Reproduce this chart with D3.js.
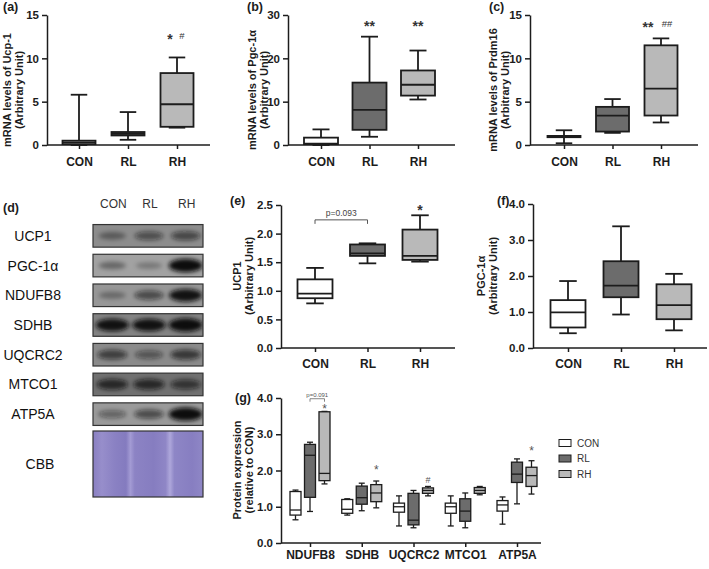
<!DOCTYPE html>
<html><head><meta charset="utf-8">
<script src="https://cdn.jsdelivr.net/npm/d3@7"></script>
<style>
body{margin:0;background:#fff}
svg{display:block}
text{font-family:"Liberation Sans",Arial,Helvetica,sans-serif}
</style>
</head><body>
<svg id="c" width="709" height="569"></svg>
<script>
// ---------------- DATA ----------------
const groups = ["CON", "RL", "RH"];
// box stats per group: [min, q1, median, q3, max]
const ucp1mRNA   = [[0, 0.1, 0.3, 0.5, 5.8], [0.6, 1.1, 1.3, 1.5, 3.8], [2.0, 2.1, 4.7, 8.3, 10.1]];
const pgc1amRNA  = [[0, 0.2, 0.3, 1.7, 3.6], [1.9, 3.5, 8.1, 14.4, 25.0], [10.5, 11.4, 13.9, 17.2, 21.8]];
const prdm16mRNA = [[0.2, 0.9, 1.0, 1.05, 1.7], [1.4, 1.55, 3.4, 4.4, 5.3], [2.6, 3.4, 6.5, 11.5, 12.3]];
const ucp1Protein  = [[0.78, 0.87, 0.95, 1.20, 1.40], [1.48, 1.61, 1.655, 1.81, 1.83], [1.51, 1.54, 1.61, 2.07, 2.32]];
const pgc1aProtein = [[0.41, 0.57, 0.99, 1.33, 1.86], [0.93, 1.41, 1.73, 2.41, 3.38], [0.49, 0.80, 1.19, 1.77, 2.06]];

const oxphosCats = ["NDUFB8", "SDHB", "UQCRC2", "MTCO1", "ATP5A"];
const oxphosCON = [[0.64, 0.77, 0.91, 1.42, 1.46], [0.77, 0.82, 0.93, 1.20, 1.22], [0.47, 0.85, 1.00, 1.10, 1.30], [0.47, 0.82, 1.00, 1.10, 1.30], [0.52, 0.88, 1.05, 1.17, 1.27]];
const oxphosRL  = [[0.87, 1.26, 2.42, 2.72, 2.78], [0.89, 1.07, 1.25, 1.57, 1.65], [0.42, 0.50, 0.63, 1.37, 1.45], [0.42, 0.60, 0.88, 1.22, 1.38], [1.08, 1.67, 1.90, 2.23, 2.32]];
const oxphosRH  = [[1.63, 1.72, 1.92, 3.62, 3.63], [0.97, 1.14, 1.38, 1.61, 1.71], [1.30, 1.37, 1.45, 1.52, 1.56], [1.33, 1.37, 1.45, 1.53, 1.56], [1.35, 1.56, 1.86, 2.09, 2.27]];

const ticksA = [0, 5, 10, 15];
const ticksB = [0, 10, 20, 30];
const ticksC = [0, 5, 10, 15];
const ticksE = [0, 0.5, 1.0, 1.5, 2.0, 2.5];
const ticksF = [0, 1, 2, 3, 4];
const ticksG = [0, 1, 2, 3, 4];

// significance marks: [group, text, value]
const sigA = [["RH", "*", 12.6], ["RH", "#", 12.6]];
const sigB = [["RL", "**", 28.2], ["RH", "**", 28.2]];
const sigC = [["RH", "**", 14.0], ["RH", "##", 14.0]];
const sigE = [["RH", "*", 2.47]];
const pBracketE = ["CON", "RL", 2.24, "p=0.093"];
// oxphos marks: [category, group, text, value]
const sigG = [["NDUFB8", "RH", "*", 3.78], ["SDHB", "RH", "*", 2.1], ["UQCRC2", "RH", "#", 1.75], ["ATP5A", "RH", "*", 2.62]];
const pBracketG = ["NDUFB8", "RL", "RH", 3.98, "p=0.091"];

// western blot
const blotProteins = ["UCP1", "PGC-1α", "NDUFB8", "SDHB", "UQCRC2", "MTCO1", "ATP5A"];
const blotBands = [[0.35, 0.5, 0.55], [0.35, 0.25, 1.0], [0.3, 0.55, 0.92], [0.92, 0.92, 1.0], [0.6, 0.45, 0.65], [0.72, 0.72, 0.62], [0.4, 0.55, 1.0]];

// ---------------- STYLE ----------------
const fills = {CON: "#ffffff", RL: "#6c6c6c", RH: "#b9b9b9"};
const ink = "#1c1c1c";
const blotBg = {"UCP1": "#8d8d8d", "PGC-1α": "#a2a2a2", "NDUFB8": "#979797", "SDHB": "#838383", "UQCRC2": "#8b8b8b", "MTCO1": "#707070", "ATP5A": "#9a9a9a"};

const svg = d3.select("#c");
svg.append("rect").attr("width", 709).attr("height", 569).attr("fill", "#fff");
const defs = svg.append("defs");
defs.append("filter").attr("id", "blur").attr("x", "-50%").attr("y", "-80%").attr("width", "200%").attr("height", "260%")
  .append("feGaussianBlur").attr("stdDeviation", 2.2);

function glyphBaseline(yc, t, size) {
  return yc + (t.indexOf("*") >= 0 ? 0.6 : 0.36) * size;
}

function rotTitle(x, yc, lines, size) {
  const g = svg.append("g");
  lines.forEach((l, i) => {
    g.append("text").attr("transform", `translate(${x + i * 12},${yc}) rotate(-90)`)
      .attr("text-anchor", "middle").attr("dominant-baseline", "central")
      .attr("font-size", size).attr("font-weight", "bold").attr("fill", ink).text(l);
  });
}

function styleAxis(g, sw, fs, bold) {
  g.selectAll("path.domain").attr("stroke", ink).attr("stroke-width", sw);
  g.selectAll(".tick line").attr("stroke", ink).attr("stroke-width", sw);
  g.selectAll(".tick text").attr("font-size", fs).attr("font-weight", bold ? "bold" : "normal")
    .attr("fill", ink).attr("font-family", '"Liberation Sans",Arial,sans-serif');
}

function drawBox(g, cx, s, y, w, capW, fill, sw) {
  const [mn, q1, md, q3, mx] = s;
  const st = {stroke: ink, "stroke-width": sw};
  const line = (x1, y1, x2, y2) => g.append("line").attr("x1", x1).attr("y1", y1).attr("x2", x2).attr("y2", y2)
    .attr("stroke", ink).attr("stroke-width", sw);
  line(cx, y(mx), cx, y(q3));
  line(cx, y(q1), cx, y(mn));
  line(cx - capW / 2, y(mx), cx + capW / 2, y(mx));
  line(cx - capW / 2, y(mn), cx + capW / 2, y(mn));
  g.append("rect").attr("x", cx - w / 2).attr("y", y(q3)).attr("width", w).attr("height", Math.max(0.5, y(q1) - y(q3)))
    .attr("fill", fill).attr("stroke", ink).attr("stroke-width", sw);
  line(cx - w / 2, y(md), cx + w / 2, y(md));
}

function boxPanel(cfg, data, ticks, fmt, sigs, sigOffsets) {
  const g = svg.append("g");
  const x = d3.scalePoint().domain(groups).range([cfg.first, cfg.first + 2 * cfg.step]);
  const y = d3.scaleLinear().domain([0, cfg.max]).range([cfg.yBot, cfg.yTop]);
  const ya = g.append("g").attr("transform", `translate(${cfg.ax},0)`)
    .call(d3.axisLeft(y).tickValues(ticks).tickFormat(fmt).tickSize(5).tickSizeOuter(0).tickPadding(3));
  styleAxis(ya, 1.5, 11.5, true);
  const xa = g.append("g").attr("transform", `translate(0,${cfg.yBot})`)
    .call(d3.axisBottom(x).tickSize(4).tickSizeOuter(0).tickPadding(cfg.xPad));
  xa.select("path.domain").attr("d", `M${cfg.ax},0H${cfg.xEnd}`);
  styleAxis(xa, 1.5, 12, true);
  groups.forEach((grp, i) => drawBox(g, x(grp), data[i], y, cfg.boxW, cfg.boxW / 2, fills[grp], 1.8));
  (sigs || []).forEach(([grp, t, v], i) => {
    const size = t.indexOf("*") >= 0 ? 14 : 9.5;
    const dx = sigOffsets ? sigOffsets[i] : 0;
    g.append("text").attr("x", x(grp) + dx).attr("y", glyphBaseline(y(v), t, size))
      .attr("text-anchor", "middle").attr("font-size", size).attr("font-weight", t.indexOf("*") >= 0 ? "bold" : "normal")
      .attr("fill", "#333").text(t);
  });
  return {g, x, y};
}

function panelLabel(x, y, t) {
  svg.append("text").attr("x", x).attr("y", y).attr("font-size", 12.5).attr("font-weight", "bold").attr("fill", ink).text(t);
}

// ---------------- (a) (b) (c) ----------------
const fmtInt = d3.format("d");
const fmt1 = d3.format(".1f");
boxPanel({ax: 47, first: 79, step: 49, xEnd: 210, yTop: 15, yBot: 145, max: 15, boxW: 33, xPad: 8},
  ucp1mRNA, ticksA, fmtInt, sigA, [-7, 5]);
boxPanel({ax: 288, first: 321, step: 48.5, xEnd: 455, yTop: 15, yBot: 145, max: 30, boxW: 34, xPad: 8},
  pgc1amRNA, ticksB, fmtInt, sigB, [0, 0]);
boxPanel({ax: 530, first: 564, step: 48.5, xEnd: 698, yTop: 15, yBot: 145, max: 15, boxW: 33, xPad: 8},
  prdm16mRNA, ticksC, fmtInt, sigC, [-13, 6]);
panelLabel(3, 11, "(a)"); panelLabel(247, 11, "(b)"); panelLabel(489, 11, "(c)");
rotTitle(7, 90, ["mRNA levels of Ucp-1", "(Arbitrary Unit)"], 11);
rotTitle(252, 90, ["mRNA levels of Pgc-1α", "(Arbitrary Unit)"], 11);
rotTitle(493, 90, ["mRNA levels of Prdm16", "(Arbitrary Unit)"], 11);

// ---------------- (e) (f) ----------------
const pe = boxPanel({ax: 281, first: 315, step: 52.5, xEnd: 455, yTop: 205, yBot: 348, max: 2.5, boxW: 35, xPad: 7},
  ucp1Protein, ticksE, fmt1, sigE, [0]);
{
  const [g1, g2, v, t] = pBracketE;
  const yb = pe.y(v);
  pe.g.append("path").attr("d", `M${pe.x(g1)},${yb + 4}V${yb}H${pe.x(g2)}V${yb + 4}`)
    .attr("fill", "none").attr("stroke", "#555").attr("stroke-width", 1);
  pe.g.append("text").attr("x", (pe.x(g1) + pe.x(g2)) / 2).attr("y", yb - 4).attr("text-anchor", "middle")
    .attr("font-size", 8.5).attr("fill", "#444").text(t);
}
boxPanel({ax: 533, first: 568, step: 53, xEnd: 707, yTop: 204, yBot: 348, max: 4, boxW: 35, xPad: 7},
  pgc1aProtein, ticksF, fmt1, [], []);
panelLabel(230, 205, "(e)"); panelLabel(497, 205, "(f)");
rotTitle(237, 276, ["UCP1", "(Arbitrary Unit)"], 11);
rotTitle(481, 276, ["PGC-1α", "(Arbitrary Unit)"], 11);

// ---------------- (g) ----------------
{
  const g = svg.append("g");
  const x = d3.scalePoint().domain(oxphosCats).range([310, 517]);
  const xo = d3.scalePoint().domain(groups).range([-14.5, 14.5]);
  const y = d3.scaleLinear().domain([0, 4]).range([543, 398]);
  const ya = g.append("g").attr("transform", "translate(281,0)")
    .call(d3.axisLeft(y).tickValues(ticksG).tickFormat(fmt1).tickSize(5).tickSizeOuter(0).tickPadding(3));
  styleAxis(ya, 1.5, 11.5, true);
  const xa = g.append("g").attr("transform", "translate(0,543)")
    .call(d3.axisBottom(x).tickSize(4).tickSizeOuter(0).tickPadding(3));
  xa.select("path.domain").attr("d", "M281,0H541");
  styleAxis(xa, 1.5, 12, true);
  const series = {CON: oxphosCON, RL: oxphosRL, RH: oxphosRH};
  oxphosCats.forEach((c, ci) => {
    groups.forEach(grp => drawBox(g, x(c) + xo(grp), series[grp][ci], y, 11, 6, fills[grp], 1.3));
  });
  sigG.forEach(([c, grp, t, v]) => {
    const size = t === "*" ? 12 : 9;
    g.append("text").attr("x", x(c) + xo(grp)).attr("y", glyphBaseline(y(v), t, size)).attr("text-anchor", "middle")
      .attr("font-size", size).attr("fill", "#555").text(t);
  });
  const [pc, pg1, pg2, pv, pt] = pBracketG;
  const yb = y(pv);
  g.append("path").attr("d", `M${x(pc) + xo(pg1)},${yb + 3}V${yb}H${x(pc) + xo(pg2)}V${yb + 3}`)
    .attr("fill", "none").attr("stroke", "#666").attr("stroke-width", 0.8);
  g.append("text").attr("x", (x(pc) + xo(pg1) + x(pc) + xo(pg2)) / 2).attr("y", yb - 2).attr("text-anchor", "middle")
    .attr("font-size", 6).attr("fill", "#555").text(pt);
  // legend
  const ly = d3.scalePoint().domain(groups).range([443, 474]);
  groups.forEach(grp => {
    g.append("rect").attr("x", 559).attr("y", ly(grp) - 3.5).attr("width", 12).attr("height", 7)
      .attr("fill", fills[grp]).attr("stroke", ink).attr("stroke-width", 1);
    g.append("text").attr("x", 577).attr("y", ly(grp)).attr("dominant-baseline", "central")
      .attr("font-size", 10).attr("fill", "#333").text(grp);
  });
}
panelLabel(235, 402, "(g)");
rotTitle(237, 470, ["Protein expression", "(relative to CON)"], 11);

// ---------------- (d) western blot ----------------
{
  const g = svg.append("g");
  const lane = d3.scaleBand().domain(groups).range([93, 203]);
  const row = d3.scaleBand().domain(blotProteins).range([221, 429]).paddingInner(0.24).paddingOuter(0.12);
  groups.forEach(grp => g.append("text").attr("x", lane(grp) + lane.bandwidth() / 2 + 2).attr("y", 204)
    .attr("dominant-baseline", "central").attr("text-anchor", "middle").attr("font-size", 12).attr("fill", "#333").text(grp));
  blotProteins.forEach((p, pi) => {
    const y0 = row(p), h = row.bandwidth();
    const cid = "clip" + pi;
    defs.append("clipPath").attr("id", cid).append("rect").attr("x", 93).attr("y", y0).attr("width", 110).attr("height", h);
    g.append("rect").attr("x", 93).attr("y", y0).attr("width", 110).attr("height", h).attr("fill", blotBg[p]);
    const bg = g.append("g").attr("clip-path", `url(#${cid})`).append("g").attr("filter", "url(#blur)");
    groups.forEach((grp, gi) => {
      const v = blotBands[pi][gi];
      bg.append("ellipse").attr("cx", lane(grp) + lane.bandwidth() / 2 + 1).attr("cy", y0 + h / 2)
        .attr("rx", 12 + 5 * v).attr("ry", 2.2 + 4.5 * v).attr("fill", "#111").attr("opacity", Math.min(1, v * 1.05));
    });
    g.append("rect").attr("x", 93).attr("y", y0).attr("width", 110).attr("height", h)
      .attr("fill", "none").attr("stroke", "#333").attr("stroke-width", 1.2);
    g.append("text").attr("x", 33).attr("y", y0 + h / 2).attr("text-anchor", "middle").attr("dominant-baseline", "central")
      .attr("font-size", 14).attr("fill", "#111").text(p);
  });
  // CBB
  const grad = defs.append("linearGradient").attr("id", "cbb").attr("x1", "0").attr("x2", "1").attr("y1", "0").attr("y2", "0");
  [[0, "#8a80c2"], [0.08, "#978ecb"], [0.2, "#8a81c3"], [0.3, "#847bbf"], [0.34, "#a39bd4"], [0.38, "#8c83c4"],
   [0.55, "#867dc0"], [0.66, "#8f86c6"], [0.7, "#aea7db"], [0.74, "#8e86c6"], [0.9, "#877ec1"], [1, "#8f87c6"]]
    .forEach(([o, c]) => grad.append("stop").attr("offset", o).attr("stop-color", c));
  g.append("rect").attr("x", 93).attr("y", 431).attr("width", 110).attr("height", 66)
    .attr("fill", "url(#cbb)").attr("stroke", "#333").attr("stroke-width", 1.2);
  g.append("text").attr("x", 40).attr("y", 464).attr("text-anchor", "middle").attr("dominant-baseline", "central")
    .attr("font-size", 14).attr("fill", "#111").text("CBB");
}
panelLabel(3, 212, "(d)");
</script>
</body></html>
